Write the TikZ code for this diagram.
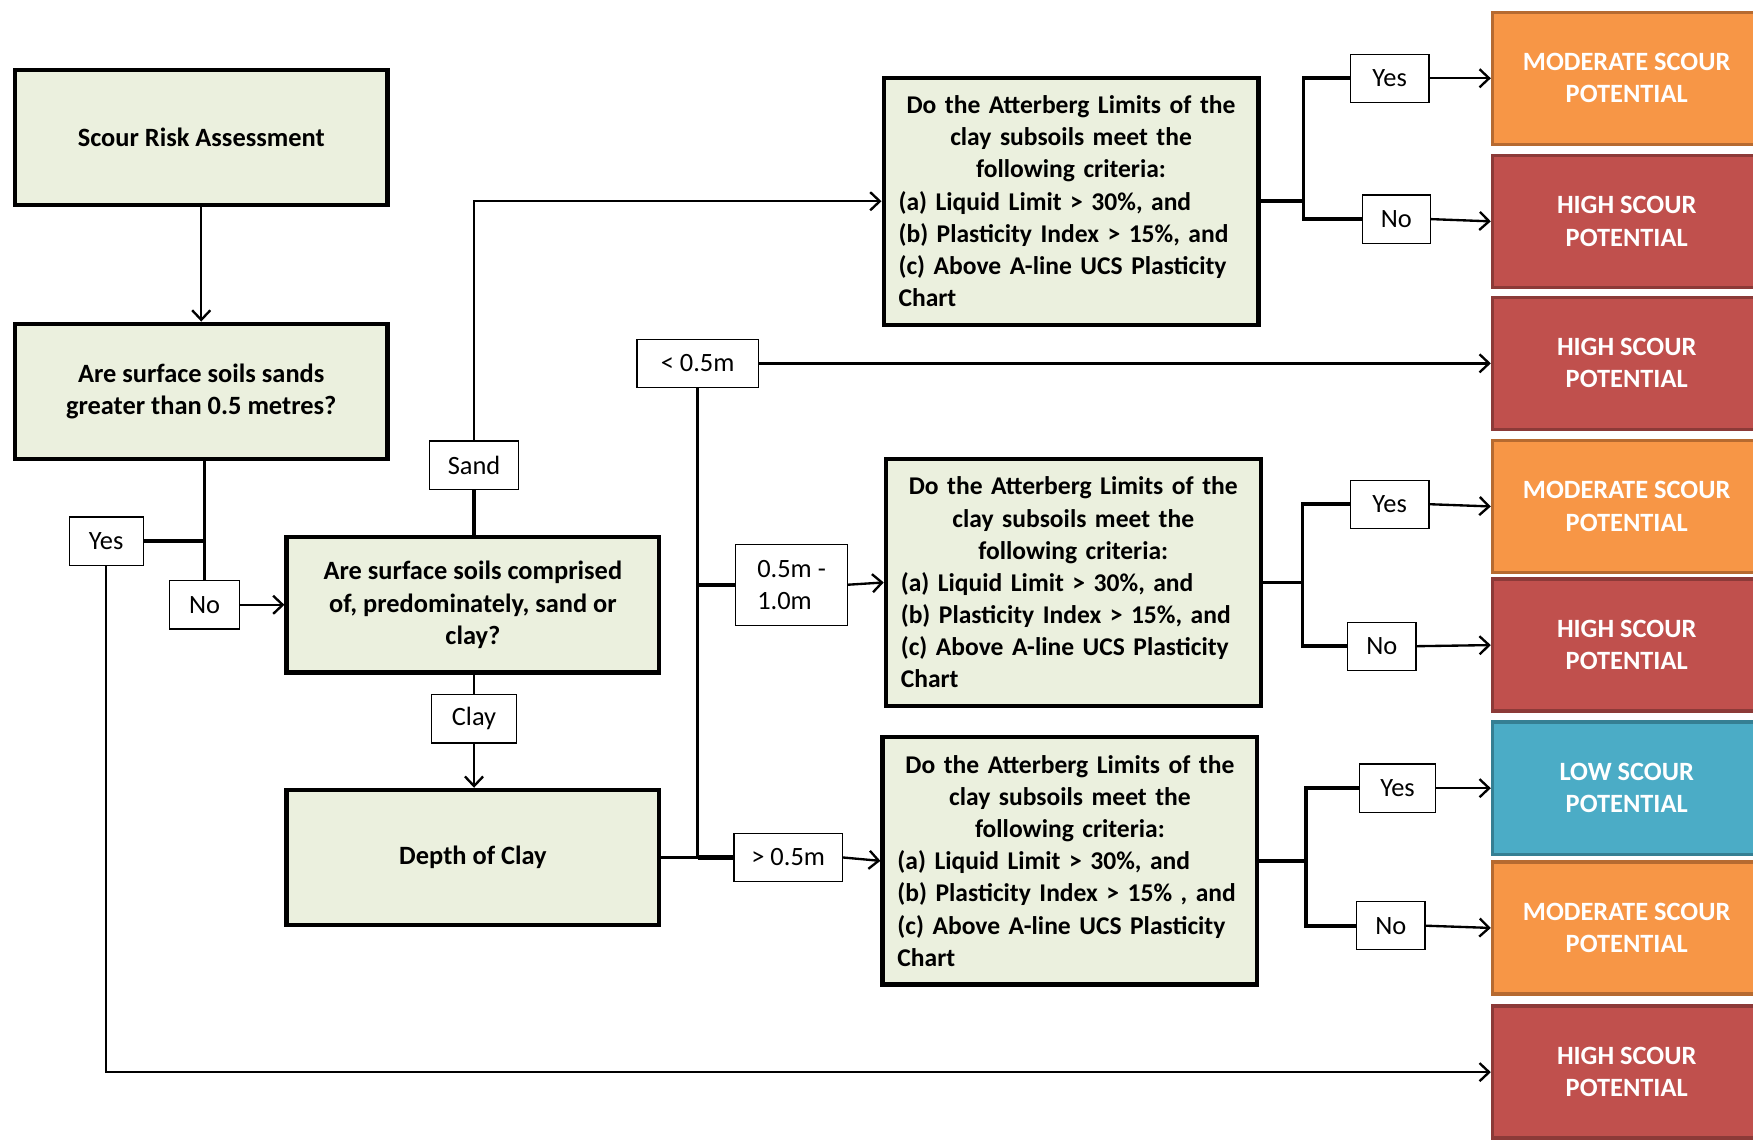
\documentclass[tikz,border=0pt]{standalone}
\usepackage{fontspec}
\setmainfont{Carlito}
\usetikzlibrary{arrows.meta}
\definecolor{boxgreen}{RGB}{235,240,222}
\definecolor{modfill}{RGB}{247,150,70}
\definecolor{moddraw}{RGB}{182,106,48}
\definecolor{highfill}{RGB}{192,80,77}
\definecolor{highdraw}{RGB}{140,58,56}
\definecolor{lowfill}{RGB}{75,172,198}
\definecolor{lowdraw}{RGB}{53,127,147}
\begin{document}
\begin{tikzpicture}[x=0.525pt,y=-0.525pt,>={Straight Barb[length=4.5pt,width=8.5pt]}]
	\def \colleft{180}
	\def \colmid{423}
	\def \trunkx{624}
	\def \outx{1455}
	\tikzstyle{q-node}=[draw,line width=2pt,fill=boxgreen,font=\fontsize{12.4}{15.1}\selectfont\bfseries,align=center,minimum width=175pt,minimum height=63.5pt]
	\tikzstyle{c-node}=[draw,line width=2pt,fill=boxgreen,font=\fontsize{12}{15.1}\selectfont\bfseries,align=left,text width=162pt,inner xsep=7pt,inner ysep=4pt,minimum height=116pt]
	\tikzstyle{l-node}=[draw,line width=0.6pt,fill=white,font=\fontsize{12.4}{15.1}\selectfont,minimum height=22.6pt,inner sep=2pt]
	\tikzstyle{o-node}=[draw,line width=1.6pt,text=white,font=\fontsize{12.4}{15.1}\selectfont\bfseries,align=center,minimum width=126pt,minimum height=62pt]
	\tikzstyle{thick-line}=[line width=1.7pt]
	\tikzstyle{thin-line}=[line width=1.1pt]
	\useasboundingbox (0,0) rectangle (1568,1023);

	% questions
	\node[q-node]	(srisk)	at (\colleft,123)	{Scour Risk Assessment};
	\node[q-node]	(qsand)	at (\colleft,350)	{Are surface soils sands\\greater than 0.5 metres?};
	\node[q-node]	(qtype)	at (\colmid,541)	{Are surface soils comprised\\of, predominately, sand or\\clay?};
	\node[q-node]	(depth)	at (\colmid,767)	{Depth of Clay};

	% criteria
	\node[c-node]	(crit1)	at (958,180)	{{\centering Do the Atterberg Limits of the\\clay subsoils meet the\\following criteria:\par}(a) Liquid Limit > 30\%, and\\(b) Plasticity Index > 15\%, and\\(c) Above A-line UCS Plasticity\\Chart};
	\node[c-node]	(crit2)	at (960,521)	{{\centering Do the Atterberg Limits of the\\clay subsoils meet the\\following criteria:\par}(a) Liquid Limit > 30\%, and\\(b) Plasticity Index > 15\%, and\\(c) Above A-line UCS Plasticity\\Chart};
	\node[c-node]	(crit3)	at (957,770)	{{\centering Do the Atterberg Limits of the\\clay subsoils meet the\\following criteria:\par}(a) Liquid Limit > 30\%, and\\(b) Plasticity Index > 15\%~, and\\(c) Above A-line UCS Plasticity\\Chart};

	% labels
	\node[l-node,minimum width=34.7pt]	(yes0)	at (95,484)	{Yes};
	\node[l-node,minimum width=33pt]	(no0)	at (183,541)	{No};
	\node[l-node,minimum width=41.5pt]	(sand)	at (424,416)	{Sand};
	\node[l-node,minimum width=40pt]	(clay)	at (424,643)	{Clay};
	\node[l-node,minimum width=57pt]	(lt05)	at (\trunkx,325)	{< 0.5m};
	\node[l-node,minimum width=52.5pt,minimum height=38pt,align=left]	(mid05)	at (708,523)	{0.5m -\\1.0m};
	\node[l-node,minimum width=51pt]	(gt05)	at (705,767)	{> 0.5m};
	\node[l-node,minimum width=36.8pt]	(yes1)	at (1243,70)	{Yes};
	\node[l-node,minimum width=32pt]	(no1)	at (1249,196)	{No};
	\node[l-node,minimum width=36.8pt]	(yes2)	at (1243,451)	{Yes};
	\node[l-node,minimum width=32pt]	(no2)	at (1236,578)	{No};
	\node[l-node,minimum width=35.7pt]	(yes3)	at (1250,705)	{Yes};
	\node[l-node,minimum width=32pt]	(no3)	at (1244,828)	{No};

	% outcomes
	\node[o-node,fill=modfill,draw=moddraw]		(out1)	at (\outx,70)	{MODERATE SCOUR\\POTENTIAL};
	\node[o-node,fill=highfill,draw=highdraw]	(out2)	at (\outx,198)	{HIGH SCOUR\\POTENTIAL};
	\node[o-node,fill=highfill,draw=highdraw]	(out3)	at (\outx,325)	{HIGH SCOUR\\POTENTIAL};
	\node[o-node,fill=modfill,draw=moddraw]		(out4)	at (\outx,453)	{MODERATE SCOUR\\POTENTIAL};
	\node[o-node,fill=highfill,draw=highdraw]	(out5)	at (\outx,577)	{HIGH SCOUR\\POTENTIAL};
	\node[o-node,fill=lowfill,draw=lowdraw]		(out6)	at (\outx,705)	{LOW SCOUR\\POTENTIAL};
	\node[o-node,fill=modfill,draw=moddraw]		(out7)	at (\outx,830)	{MODERATE SCOUR\\POTENTIAL};
	\node[o-node,fill=highfill,draw=highdraw]	(out8)	at (\outx,959)	{HIGH SCOUR\\POTENTIAL};

	% junctions
	\coordinate (jdepth)	at (\trunkx,767);
	\coordinate (j1)	at (1166,180);
	\coordinate (j2)	at (1165,521);
	\coordinate (j3)	at (1168,770);

	% left part
	\draw[->,thin-line] (srisk) -- (qsand);
	\draw[thick-line] (qsand.south -| no0) -- (no0.north);
	\draw[line width=2.2pt] (yes0.east) -- (yes0.east -| no0);
	\draw[->,thin-line] (no0) -- (qtype);
	\draw[->,thin-line] (yes0.south) |- (out8.west);
	\draw[thick-line] (qtype.north -| sand) -- (sand.south);
	\draw[->,thin-line] (sand.north) |- (crit1.west);
	\draw[thin-line] (qtype.south -| clay) -- (clay.north);
	\draw[->,thin-line] (clay) -- (depth.north -| clay);

	% depth of clay
	\draw[thick-line] (depth.east) -- (jdepth);
	\draw[line width=2.2pt] (jdepth) -- (gt05.west);
	\draw[thick-line] (lt05.south) -- (jdepth);
	\draw[thick-line] (mid05.west -| jdepth) -- (mid05.west);
	\draw[->,thin-line] (lt05.east) -- (out3.west);
	\draw[->,thin-line] (mid05.east) -- (crit2.west);
	\draw[->,thin-line] (gt05.east) -- (crit3.west);

	% right part
	\draw[thick-line] (crit1.east) -- (j1);
	\draw[thick-line] (yes1.west) -| (j1) |- (no1.west);
	\draw[->,thin-line] (yes1.east) -- (out1.west);
	\draw[->,thin-line] (no1.east) -- (out2.west);
	%
	\draw[thick-line] (crit2.east) -- (j2);
	\draw[thick-line] (yes2.west) -| (j2) |- (no2.west);
	\draw[->,thin-line] (yes2.east) -- (out4.west);
	\draw[->,thin-line] (no2.east) -- (out5.west);
	%
	\draw[thick-line] (crit3.east) -- (j3);
	\draw[thick-line] (yes3.west) -| (j3) |- (no3.west);
	\draw[->,thin-line] (yes3.east) -- (out6.west);
	\draw[->,thin-line] (no3.east) -- (out7.west);
\end{tikzpicture}
\end{document}
